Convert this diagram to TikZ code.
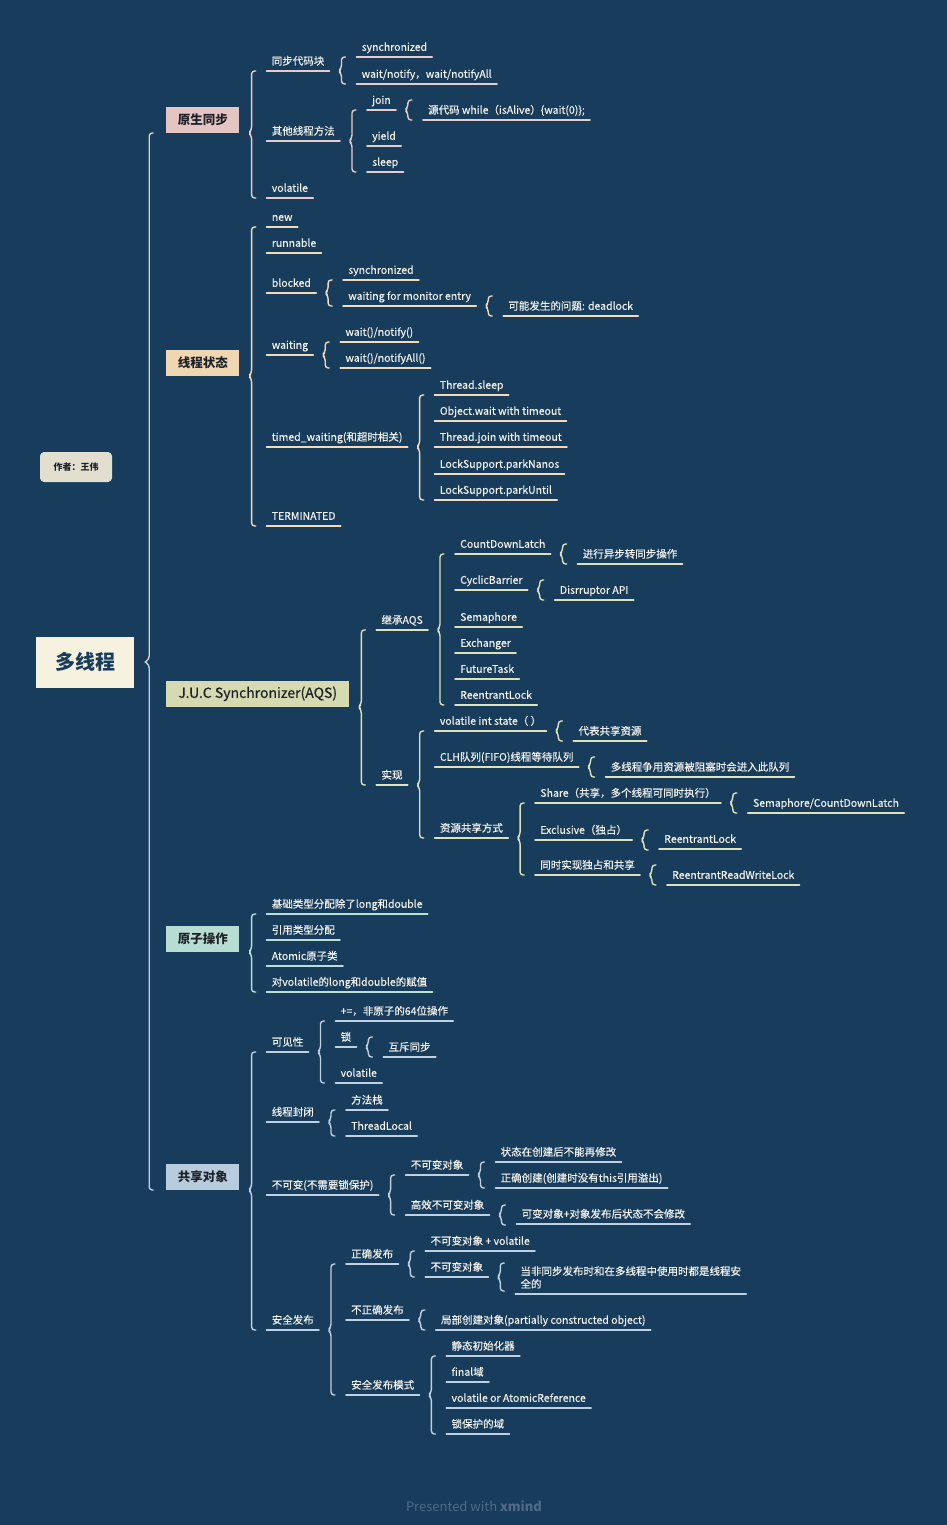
\documentclass[tikz,border=0pt]{standalone}
\usepackage{fontspec}
\usetikzlibrary{calc}
\newfontfamily\cjk{Noto Sans CJK SC}
\newfontfamily\cjkm{Noto Sans CJK SC}[FakeBold=0.35]

\definecolor{bg}{RGB}{24,60,91}
\definecolor{txt}{RGB}{242,242,240}
\definecolor{ink}{RGB}{30,34,40}
\definecolor{rootfill}{RGB}{246,242,223}
\definecolor{authfill}{RGB}{226,223,208}
\definecolor{pinkf}{RGB}{229,196,196}
\definecolor{peachf}{RGB}{241,214,178}
\definecolor{olivef}{RGB}{214,218,176}
\definecolor{mintf}{RGB}{183,221,210}
\definecolor{bluef}{RGB}{185,204,222}
\definecolor{pinkl}{RGB}{232,203,203}
\definecolor{peachl}{RGB}{243,218,184}
\definecolor{olivel}{RGB}{221,226,184}
\definecolor{mintl}{RGB}{185,224,213}
\definecolor{bluel}{RGB}{189,208,228}
\definecolor{footgray}{RGB}{80,106,135}

\newcommand\brc[4]{%
  \draw[brace=#1] let \p1=(#3.south west), \p2=(#4.south west), \p3=(#2.south) in
    (\x1-11pt,\y1) -- (\x1-15pt,\y1) -- (\x1-15pt,\y3+3pt) -- (\x1-18pt,\y3)
    -- (\x1-15pt,\y3-3pt) -- (\x1-15pt,\y2) -- (\x1-11pt,\y2);}
\newcommand\brs[4][10pt]{%
  \draw[brace=#2] let \p1=(#4.south west), \p3=(#3.south) in
    (\x1-11pt,\y3+#1) -- (\x1-15pt,\y3+#1) -- (\x1-15pt,\y3+3pt) -- (\x1-18pt,\y3)
    -- (\x1-15pt,\y3-3pt) -- (\x1-15pt,\y3-#1) -- (\x1-11pt,\y3-#1);}

\begin{document}
\begin{tikzpicture}[x=1pt,y=-1pt,
    brace/.style={draw=#1,line width=1.4pt,rounded corners=3pt,line cap=round,line join=round},
    under line/.style={draw=#1,line width=1.8pt,line cap=round},
    leaf node/.style={font=\cjkm\fontsize{10.5}{12.5}\selectfont,text=txt,anchor=south west,xshift=27pt,
      inner xsep=5pt,inner ysep=4pt,text height=8pt,text depth=2pt,
      append after command={\pgfextra{\let\lastleaf\tikzlastnode}(\lastleaf.south west) edge[under line=#1] (\lastleaf.south east)}},
    main node/.style={fill=#1,font=\cjk\bfseries\fontsize{12.5}{14}\selectfont,text=ink,anchor=south west,xshift=32pt,
      minimum height=26pt,minimum width=73pt,inner xsep=9pt},
    root node/.style={fill=rootfill,font=\cjk\bfseries\fontsize{20}{23}\selectfont,text=bg,minimum width=98pt,minimum height=51pt}]
            \useasboundingbox[fill=bg] (0,0) rectangle (947,1525);

            \node[root node] (0) at (85,662) {多线程};
            \node[fill=authfill,rounded corners=4pt,font=\cjk\bfseries\fontsize{9}{11}\selectfont,text=ink,minimum width=72pt,minimum height=30pt] (a) at (76,467) {作者：王伟};

            \node[main node=pinkf] (1) at (0.east |- 0,133) {原生同步};
            \node[main node=peachf] (2) at (0.east |- 0,376) {线程状态};
            \node[main node=olivef,font=\cjkm\fontsize{14}{16}\selectfont,inner xsep=12pt] (3) at (0.east |- 0,707) {J.U.C Synchronizer(AQS)};
            \node[main node=mintf] (4) at (0.east |- 0,952) {原子操作};
            \node[main node=bluef] (5) at (0.east |- 0,1190) {共享对象};

            \node[leaf node=pinkl] (11) at (1.south east |- 0,71) {同步代码块};
            \node[leaf node=pinkl] (111) at (11.south east |- 0,57) {synchronized};
            \node[leaf node=pinkl] (112) at (11.south east |- 0,84) {wait/notify，wait/notifyAll};
            \node[leaf node=pinkl] (12) at (1.south east |- 0,141) {其他线程方法};
            \node[leaf node=pinkl] (121) at (12.south east |- 0,110) {join};
            \node[leaf node=pinkl] (1211) at (121.south east |- 0,120) {源代码 while（isAlive）\{wait(0)\};};
            \node[leaf node=pinkl] (122) at (12.south east |- 0,146) {yield};
            \node[leaf node=pinkl] (123) at (12.south east |- 0,172) {sleep};
            \node[leaf node=pinkl] (13) at (1.south east |- 0,198) {volatile};

            \node[leaf node=peachl] (21) at (2.south east |- 0,227) {new};
            \node[leaf node=peachl] (22) at (2.south east |- 0,253) {runnable};
            \node[leaf node=peachl] (23) at (2.south east |- 0,293) {blocked};
            \node[leaf node=peachl] (231) at (23.south east |- 0,280) {synchronized};
            \node[leaf node=peachl] (232) at (23.south east |- 0,306) {waiting for monitor entry};
            \node[leaf node=peachl] (2321) at (232.south east |- 0,316) {可能发生的问题: deadlock};
            \node[leaf node=peachl] (24) at (2.south east |- 0,355) {waiting};
            \node[leaf node=peachl] (241) at (24.south east |- 0,342) {wait()/notify()};
            \node[leaf node=peachl] (242) at (24.south east |- 0,368) {wait()/notifyAll()};
            \node[leaf node=peachl] (25) at (2.south east |- 0,447) {timed\_waiting(和超时相关)};
            \node[leaf node=peachl] (251) at (25.south east |- 0,395) {Thread.sleep};
            \node[leaf node=peachl] (252) at (25.south east |- 0,421) {Object.wait with timeout};
            \node[leaf node=peachl] (253) at (25.south east |- 0,447) {Thread.join with timeout};
            \node[leaf node=peachl] (254) at (25.south east |- 0,474) {LockSupport.parkNanos};
            \node[leaf node=peachl] (255) at (25.south east |- 0,500) {LockSupport.parkUntil};
            \node[leaf node=peachl] (26) at (2.south east |- 0,526) {TERMINATED};

            \node[leaf node=olivel] (31) at (3.south east |- 0,630) {继承AQS};
            \node[leaf node=olivel] (311) at (31.south east |- 0,554) {CountDownLatch};
            \node[leaf node=olivel] (3111) at (311.south east |- 0,564) {进行异步转同步操作};
            \node[leaf node=olivel] (312) at (31.south east |- 0,590) {CyclicBarrier};
            \node[leaf node=olivel] (3121) at (312.south east |- 0,600) {Disrruptor API};
            \node[leaf node=olivel] (313) at (31.south east |- 0,627) {Semaphore};
            \node[leaf node=olivel] (314) at (31.south east |- 0,653) {Exchanger};
            \node[leaf node=olivel] (315) at (31.south east |- 0,679) {FutureTask};
            \node[leaf node=olivel] (316) at (31.south east |- 0,705) {ReentrantLock};
            \node[leaf node=olivel] (32) at (3.south east |- 0,785) {实现};
            \node[leaf node=olivel] (321) at (32.south east |- 0,731) {volatile int state（ ）};
            \node[leaf node=olivel] (3211) at (321.south east |- 0,741) {代表共享资源};
            \node[leaf node=olivel] (322) at (32.south east |- 0,767) {CLH队列(FIFO)线程等待队列};
            \node[leaf node=olivel] (3221) at (322.south east |- 0,777) {多线程争用资源被阻塞时会进入此队列};
            \node[leaf node=olivel] (323) at (32.south east |- 0,838) {资源共享方式};
            \node[leaf node=olivel] (3231) at (323.south east |- 0,803) {Share（共享，多个线程可同时执行）};
            \node[leaf node=olivel] (32311) at (3231.south east |- 0,813) {Semaphore/CountDownLatch};
            \node[leaf node=olivel] (3232) at (323.south east |- 0,840) {Exclusive（独占）};
            \node[leaf node=olivel] (32321) at (3232.south east |- 0,849) {ReentrantLock};
            \node[leaf node=olivel] (3233) at (323.south east |- 0,875) {同时实现独占和共享};
            \node[leaf node=olivel] (32331) at (3233.south east |- 0,885) {ReentrantReadWriteLock};

            \node[leaf node=mintl] (41) at (4.south east |- 0,914) {基础类型分配除了long和double};
            \node[leaf node=mintl] (42) at (4.south east |- 0,940) {引用类型分配};
            \node[leaf node=mintl] (43) at (4.south east |- 0,966) {Atomic原子类};
            \node[leaf node=mintl] (44) at (4.south east |- 0,992) {对volatile的long和double的赋值};

            \node[leaf node=bluel] (51) at (5.south east |- 0,1052) {可见性};
            \node[leaf node=bluel] (511) at (51.south east |- 0,1021) {+=，非原子的64位操作};
            \node[leaf node=bluel] (512) at (51.south east |- 0,1047) {锁};
            \node[leaf node=bluel] (5121) at (512.south east |- 0,1057) {互斥同步};
            \node[leaf node=bluel] (513) at (51.south east |- 0,1083) {volatile};
            \node[leaf node=bluel] (52) at (5.south east |- 0,1122) {线程封闭};
            \node[leaf node=bluel] (521) at (52.south east |- 0,1110) {方法栈};
            \node[leaf node=bluel] (522) at (52.south east |- 0,1136) {ThreadLocal};
            \node[leaf node=bluel] (53) at (5.south east |- 0,1195) {不可变(不需要锁保护)};
            \node[leaf node=bluel] (531) at (53.south east |- 0,1175) {不可变对象};
            \node[leaf node=bluel] (5311) at (531.south east |- 0,1162) {状态在创建后不能再修改};
            \node[leaf node=bluel] (5312) at (531.south east |- 0,1188) {正确创建(创建时没有this引用溢出)};
            \node[leaf node=bluel] (532) at (53.south east |- 0,1215) {高效不可变对象};
            \node[leaf node=bluel] (5321) at (532.south east |- 0,1224) {可变对象+对象发布后状态不会修改};
            \node[leaf node=bluel] (54) at (5.south east |- 0,1330) {安全发布};
            \node[leaf node=bluel] (541) at (54.south east |- 0,1264) {正确发布};
            \node[leaf node=bluel] (5411) at (541.south east |- 0,1251) {不可变对象 + volatile};
            \node[leaf node=bluel] (5412) at (541.south east |- 0,1277) {不可变对象};
            \node[leaf node=bluel] (54121) at (5412.south east |- 0,1294) {\begin{tabular}[b]{@{}l@{}}当非同步发布时和在多线程中使用时都是线程安\\全的\end{tabular}};
            \node[leaf node=bluel] (542) at (54.south east |- 0,1320) {不正确发布};
            \node[leaf node=bluel] (5421) at (542.south east |- 0,1330) {局部创建对象(partially constructed object)};
            \node[leaf node=bluel] (543) at (54.south east |- 0,1395) {安全发布模式};
            \node[leaf node=bluel] (5431) at (543.south east |- 0,1356) {静态初始化器};
            \node[leaf node=bluel] (5432) at (543.south east |- 0,1382) {final域};
            \node[leaf node=bluel] (5433) at (543.south east |- 0,1408) {volatile or AtomicReference};
            \node[leaf node=bluel] (5434) at (543.south east |- 0,1434) {锁保护的域};

            \node[font=\cjk\fontsize{13}{15}\selectfont,text=footgray] (f) at (474,1506) {Presented with \textbf{xmind}};

            \draw[brace=pinkl!85!bluel] let \p1=(1.south west), \p3=(0.east) in
                (\x1-13pt,\y1) -- (\x1-17pt,\y1) -- (\x1-17pt,\y3+3pt) -- (\x1-21pt,\y3);
            \draw[brace=bluel] let \p1=(1.south west), \p2=(5.south west), \p3=(0.east) in
                (\x1-21pt,\y3) -- (\x1-17pt,\y3-3pt) -- (\x1-17pt,\y2) -- (\x1-13pt,\y2);

            \brc{pinkl}{1}{11}{13}
            \brc{pinkl}{11}{111}{112}
            \brc{pinkl}{12}{121}{123}
            \brs{pinkl}{121}{1211}
            \brc{peachl}{2}{21}{26}
            \brc{peachl}{23}{231}{232}
            \brs{peachl}{232}{2321}
            \brc{peachl}{24}{241}{242}
            \brc{peachl}{25}{251}{255}
            \brc{olivel}{3}{31}{32}
            \brc{olivel}{31}{311}{316}
            \brs{olivel}{311}{3111}
            \brs{olivel}{312}{3121}
            \brc{olivel}{32}{321}{323}
            \brs{olivel}{321}{3211}
            \brs{olivel}{322}{3221}
            \brc{olivel}{323}{3231}{3233}
            \brs{olivel}{3231}{32311}
            \brs{olivel}{3232}{32321}
            \brs{olivel}{3233}{32331}
            \brc{mintl}{4}{41}{44}
            \brc{bluel}{5}{51}{54}
            \brc{bluel}{51}{511}{513}
            \brs{bluel}{512}{5121}
            \brc{bluel}{52}{521}{522}
            \brc{bluel}{53}{531}{532}
            \brc{bluel}{531}{5311}{5312}
            \brs{bluel}{532}{5321}
            \brc{bluel}{54}{541}{543}
            \brc{bluel}{541}{5411}{5412}
            \brs[14pt]{bluel}{5412}{54121}
            \brs{bluel}{542}{5421}
            \brc{bluel}{543}{5431}{5434}
        \end{tikzpicture}
\end{document}
